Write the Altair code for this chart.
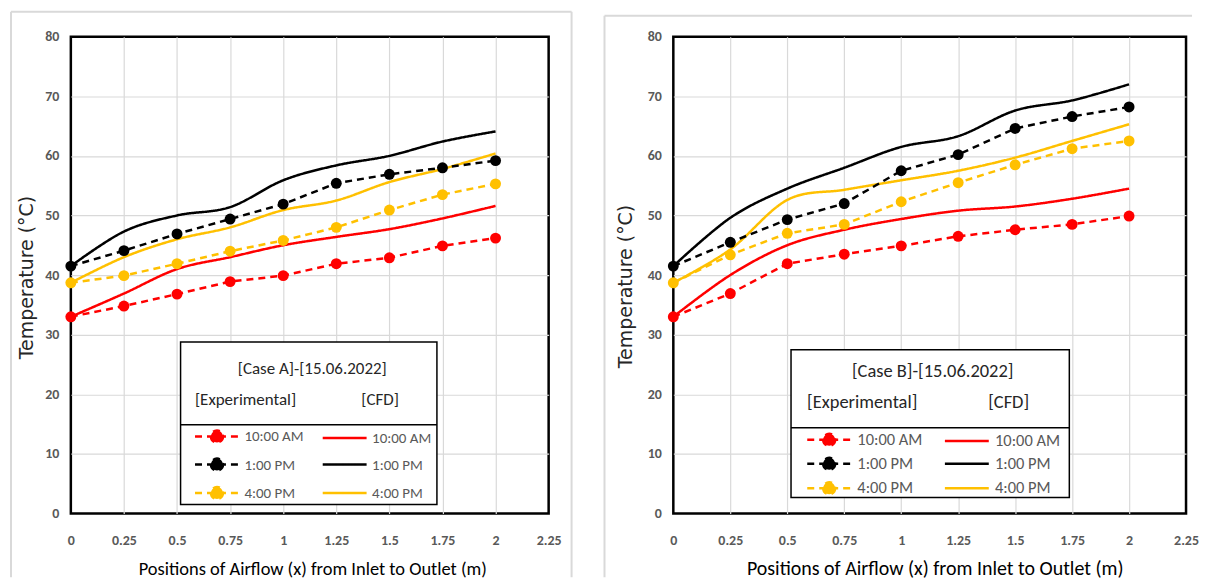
import altair as alt
import pandas as pd

positions = [0, 0.25, 0.5, 0.75, 1, 1.25, 1.5, 1.75, 2]
times = ["10:00 AM", "1:00 PM", "4:00 PM"]
time_colors = ["#FF0000", "#000000", "#FFC000"]

# Case A (left panel)
a_exp_1000 = [33.0, 34.8, 36.8, 38.9, 39.9, 41.9, 42.9, 44.9, 46.2]
a_exp_1300 = [41.5, 44.1, 46.9, 49.4, 51.9, 55.4, 56.9, 58.0, 59.2]
a_exp_1600 = [38.7, 39.9, 41.9, 44.0, 45.8, 48.0, 50.9, 53.5, 55.3]
a_cfd_1000 = [33.0, 36.9, 41.0, 43.0, 45.0, 46.4, 47.7, 49.5, 51.6]
a_cfd_1300 = [41.5, 47.3, 50.0, 51.4, 55.9, 58.4, 60.0, 62.4, 64.1]
a_cfd_1600 = [38.7, 43.0, 46.0, 48.0, 50.9, 52.5, 55.6, 57.8, 60.4]

# Case B (right panel)
b_exp_1000 = [33.0, 36.9, 41.9, 43.5, 44.9, 46.5, 47.6, 48.5, 49.9]
b_exp_1300 = [41.5, 45.5, 49.3, 52.0, 57.5, 60.2, 64.6, 66.6, 68.2]
b_exp_1600 = [38.7, 43.4, 47.0, 48.5, 52.3, 55.5, 58.5, 61.2, 62.5]
b_cfd_1000 = [33.0, 40.0, 45.0, 47.6, 49.4, 50.8, 51.5, 52.8, 54.5]
b_cfd_1300 = [41.5, 49.6, 54.5, 58.0, 61.5, 63.3, 67.6, 69.3, 72.0]
b_cfd_1600 = [38.7, 44.3, 52.6, 54.3, 55.9, 57.5, 59.7, 62.5, 65.3]

x_ticks = [0, 0.25, 0.5, 0.75, 1, 1.25, 1.5, 1.75, 2, 2.25]
y_ticks = [0, 10, 20, 30, 40, 50, 60, 70, 80]

# legend is laid out column by column: experimental column, then CFD column
series_domain = ["Exp " + t for t in times] + ["CFD " + t for t in times]
series_colors = time_colors + time_colors
series_dash = [[7, 5]] * 3 + [[1, 0]] * 3

FONT = "Carlito, Calibri, Lato, sans-serif"
NB = "\u00a0"
ZW = "\u200b"


def build_df(exp, cfd):
    rows = []
    for kind, sets in (("Exp", exp), ("CFD", cfd)):
        for t, c, vals in zip(times, time_colors, sets):
            for x, v in zip(positions, vals):
                rows.append({"x": x, "temp": v, "series": kind + " " + t,
                             "kind": kind, "hex": c})
    return pd.DataFrame(rows)


shape_expr = ("indexof(datum.value,'Exp')===0 ? "
              "'M-4.4,0H4.4M1.2,0A1.2,1.2,0,1,1,-1.2,0A1.2,1.2,0,1,1,1.2,0Z' : 'M-4.4,0H4.4'")
fill_expr = ("datum.value==='Exp 10:00 AM' ? '#FF0000' : datum.value==='Exp 1:00 PM' ? '#000000' : "
             "datum.value==='Exp 4:00 PM' ? '#FFC000' : 'transparent'")
dash_expr = "indexof(datum.value,'Exp')===0 ? [7,5] : [1,0]"


def panel(df, header, w, h, lg, box, frame, xtitle, ytitle):
    lx, ly, label_size, gap_nb, tail_nb, row_pad, col_pad = lg
    bx1, bx2, by1, by2, sep_y = box
    fx1, fx2, fy1, fy2, right_edge = frame
    xtitle_x, xtitle_size = xtitle
    ytitle_x, ytitle_y = ytitle
    legend = alt.Legend(
        title=[header, "[Experimental]" + NB * gap_nb + "[CFD]" + NB * tail_nb + ZW],
        orient="none", legendX=lx, legendY=ly, columns=2, direction="vertical",
        labelExpr="substring(datum.label, 4)",
        labelFont=FONT, labelFontSize=label_size, labelColor="#595959",
        titleFont=FONT, titleFontSize=label_size + 2, titleFontWeight="normal",
        titleColor="#262626", titleAnchor="middle", titleAlign="center",
        titleLineHeight=31, titlePadding=20, titleLimit=500, labelLimit=300,
        symbolSize=100, symbolStrokeWidth=2.5, symbolOffset=16, labelOffset=20,
        columnPadding=col_pad, rowPadding=row_pad, padding=10,
        symbolType={"expr": shape_expr},
        symbolFillColor={"expr": fill_expr},
        symbolDash={"expr": dash_expr},
    )
    x_enc = alt.X("x:Q", scale=alt.Scale(domain=[0, 2.25], nice=False, zero=False),
                  axis=alt.Axis(values=x_ticks, labelExpr="'' + datum.value", labelFlush=False,
                                title="Positions of Airflow (x) from Inlet to Outlet (m)",
                                titleX=xtitle_x, titleY=55, titleBaseline="middle",
                                titleFontSize=xtitle_size,
                                gridOpacity={"condition": {"test": "datum.value === 0 || datum.value === 2.25",
                                                           "value": 0}, "value": 1}))
    y_enc = alt.Y("temp:Q", scale=alt.Scale(domain=[0, 80], nice=False),
                  axis=alt.Axis(values=y_ticks, format="d", title="Temperature (°C)",
                                titleX=ytitle_x, titleY=ytitle_y, titleBaseline="middle",
                                titleAngle=-90,
                                gridOpacity={"condition": {"test": "datum.value === 0 || datum.value === 80",
                                                           "value": 0}, "value": 1}))
    cscale = alt.Scale(domain=series_domain, range=series_colors)
    dscale = alt.Scale(domain=series_domain, range=series_dash)

    base = alt.Chart(df)
    cfd = base.transform_filter(alt.datum.kind == "CFD").mark_line(
        interpolate="cardinal", strokeWidth=2.5).encode(
        x=x_enc, y=y_enc,
        color=alt.Color("series:N", scale=cscale, legend=legend),
        strokeDash=alt.StrokeDash("series:N", scale=dscale, legend=None))
    exp = base.transform_filter(alt.datum.kind == "Exp").mark_line(
        strokeWidth=2.5).encode(
        x=x_enc, y=y_enc,
        color=alt.Color("series:N", scale=cscale, legend=legend),
        strokeDash=alt.StrokeDash("series:N", scale=dscale, legend=None))
    pts = base.transform_filter(alt.datum.kind == "Exp").mark_circle(
        size=120, opacity=1).encode(
        x=x_enc, y=y_enc, color=alt.Color("hex:N", scale=None))

    one = pd.DataFrame({"k": [0]})
    deco = alt.Chart(one)
    box_bg = deco.mark_rect(fill="#FFFFFF", stroke="#000000", strokeWidth=1.5).encode(
        x=alt.value(bx1), x2=alt.value(bx2), y=alt.value(by1), y2=alt.value(by2))
    sep = deco.mark_rule(color="#000000", strokeWidth=1.5).encode(
        x=alt.value(bx1), x2=alt.value(bx2), y=alt.value(sep_y))
    frame_col = "#D9D9D9"
    f_left = deco.mark_rule(color=frame_col, strokeWidth=2).encode(
        x=alt.value(fx1), y=alt.value(fy1), y2=alt.value(fy2))
    f_top = deco.mark_rule(color=frame_col, strokeWidth=2).encode(
        x=alt.value(fx1), x2=alt.value(fx2), y=alt.value(fy1))
    layers = [f_left, f_top]
    if right_edge:
        layers.append(deco.mark_rule(color=frame_col, strokeWidth=2).encode(
            x=alt.value(fx2), y=alt.value(fy1), y2=alt.value(fy2)))
    layers += [cfd, exp, pts, box_bg, sep]
    return alt.layer(*layers).properties(width=w, height=h)


df_a = build_df([a_exp_1000, a_exp_1300, a_exp_1600], [a_cfd_1000, a_cfd_1300, a_cfd_1600])
df_b = build_df([b_exp_1000, b_exp_1300, b_exp_1600], [b_cfd_1000, b_cfd_1300, b_cfd_1600])

left = panel(df_a, "[Case A]-[15.06.2022]", 479, 478,
             (113, 315, 15, 17, 8, 5.5, 13),
             (110, 367, 306, 469, 389),
             (-60, 502, -25, 542, True), (242, 18.5), (-44, 241))
right = panel(df_b, "[Case B]-[15.06.2022]", 514, 478,
              (122, 316, 16.5, 17, 7, 1.5, 17),
              (118, 397, 314, 462, 392),
              (-69, 520, -21, 542, False), (262, 20), (-48, 250))

chart = alt.hconcat(left, right, spacing=27).resolve_scale(
    color="independent", strokeDash="independent").resolve_legend(
    color="independent", strokeDash="independent").properties(
    padding=0
).configure_view(stroke="#000000", strokeWidth=2.5).configure_axis(
    grid=True, gridColor="#D9D9D9", gridWidth=1.2, domain=False, ticks=False,
    labelFont=FONT, labelFontSize=14, labelFontWeight="bold", labelColor="#595959",
    labelPadding=12, titleFont=FONT, titleFontSize=18, titleFontWeight="normal",
    titleColor="#000000"
).configure_axisX(labelPadding=20).configure_axisY(
    titleFont="DejaVu Sans, Verdana, sans-serif", titleFontSize=19, titleColor="#262626")

chart.save("out.html", embed_options={"renderer": "svg", "actions": False})
